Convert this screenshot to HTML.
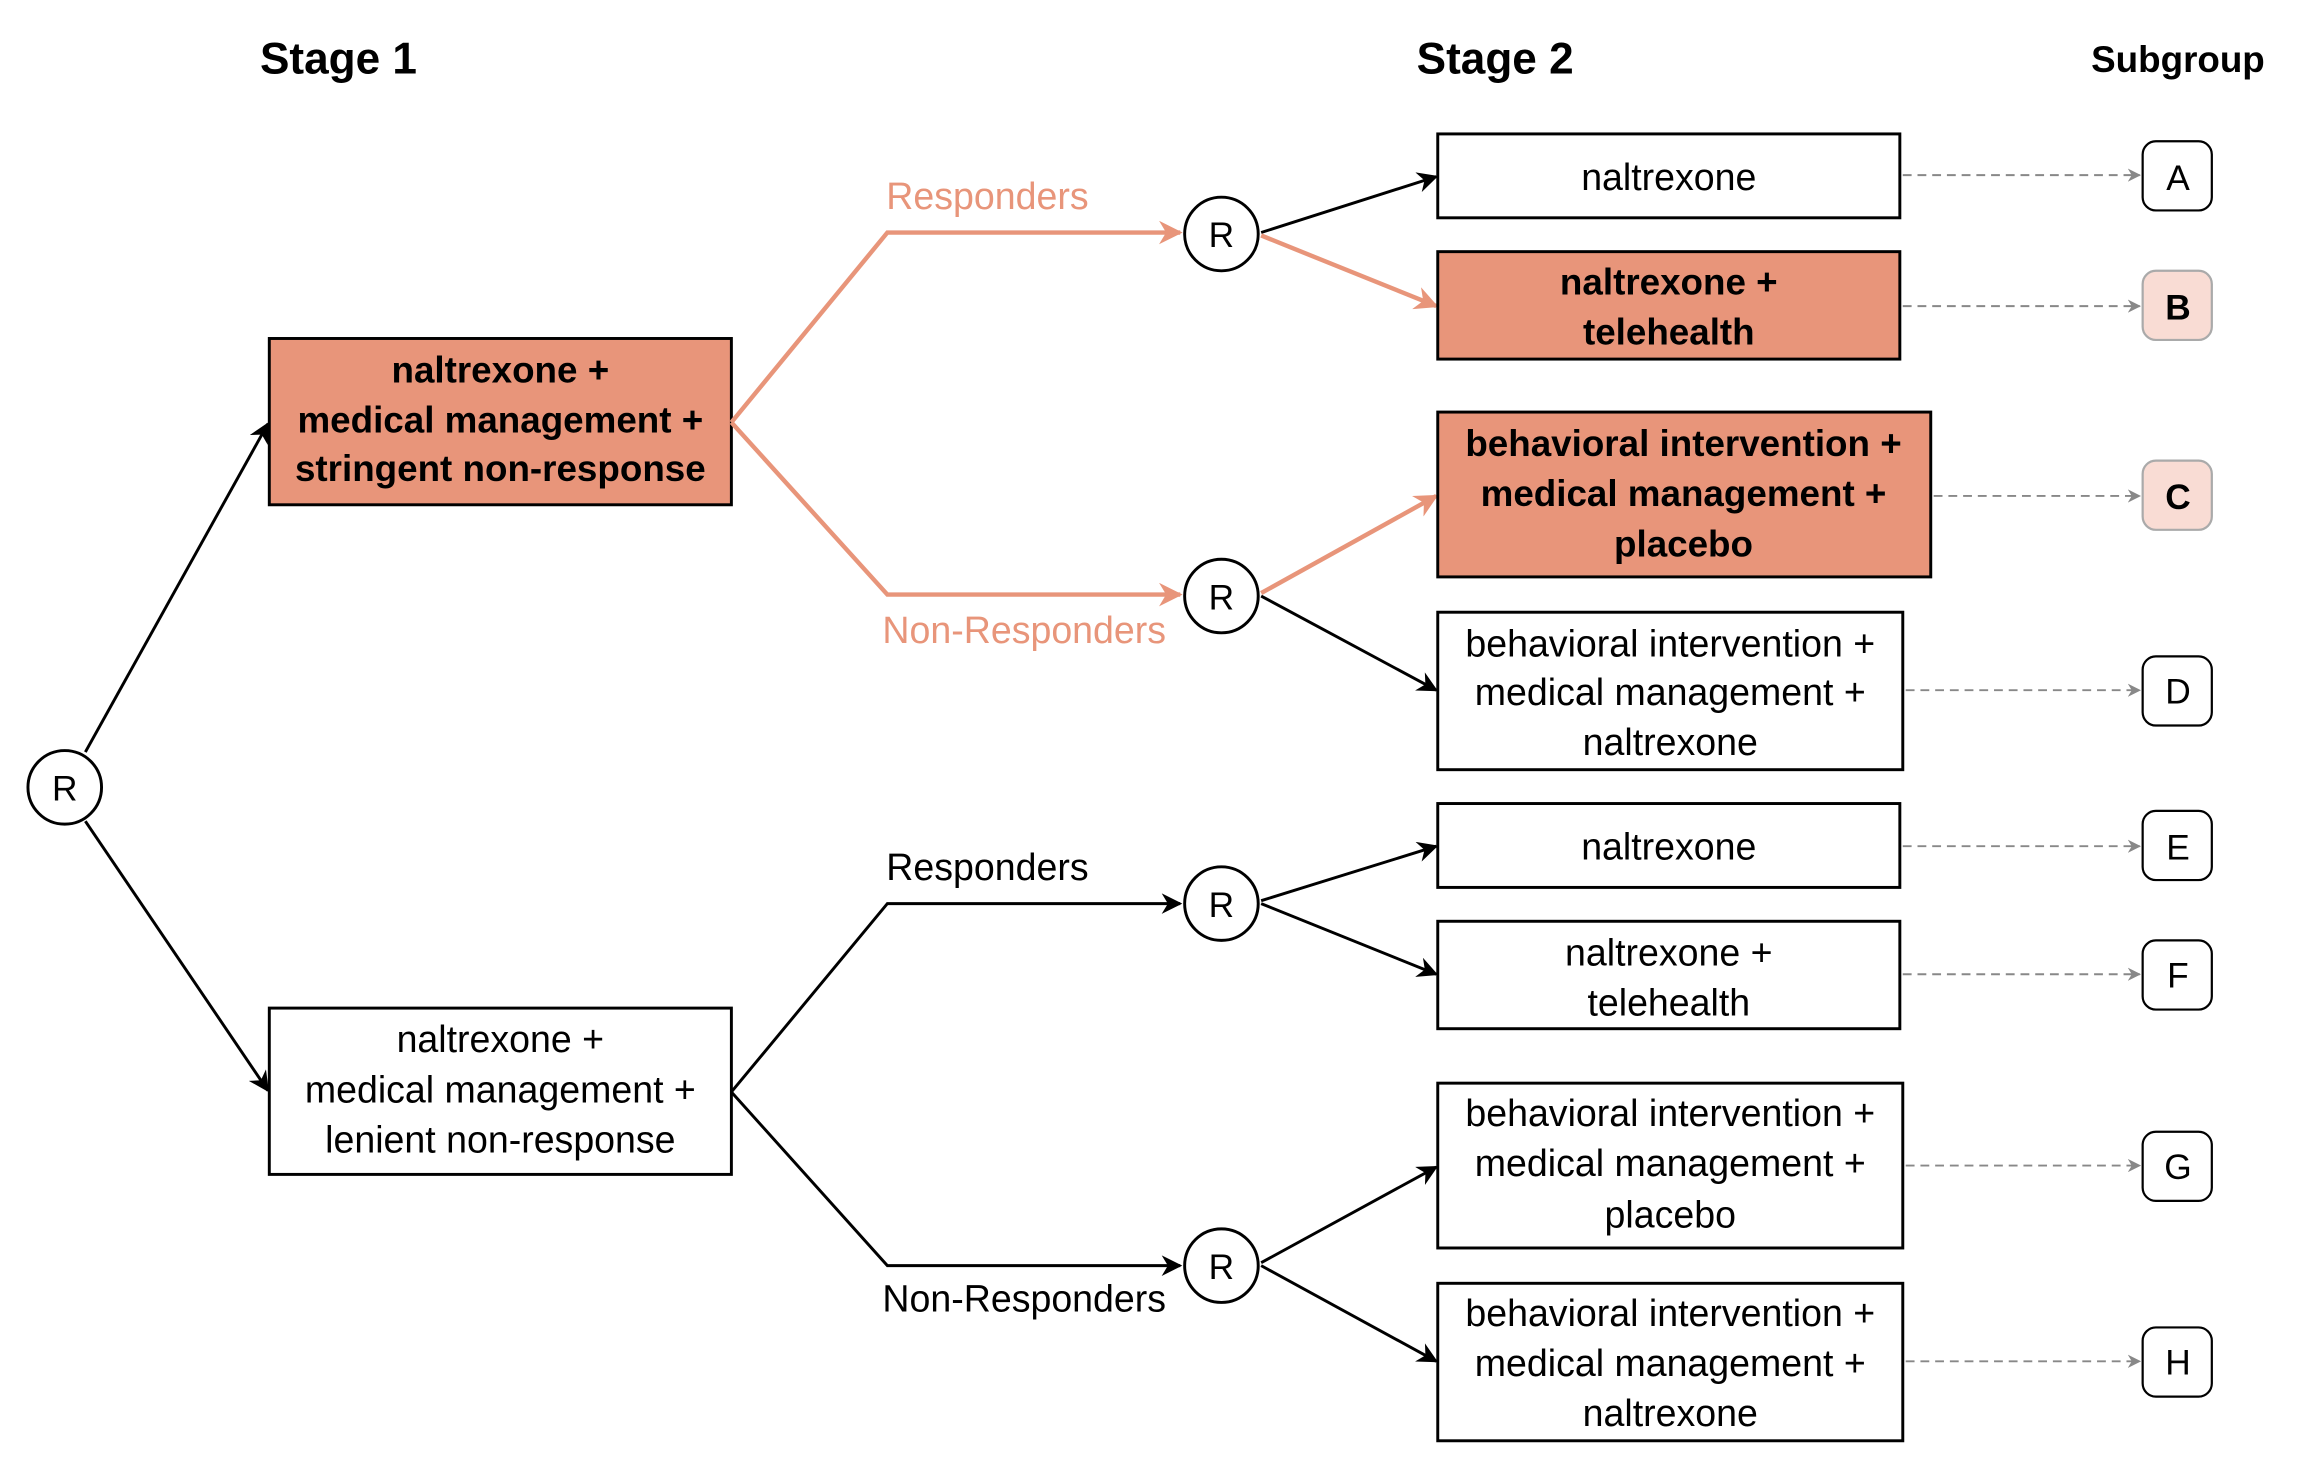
<!DOCTYPE html>
<html><head><meta charset="utf-8"><style>
html,body{margin:0;padding:0;background:#fff;}
svg{display:block;}
text{font-family:"Liberation Sans",sans-serif;}
</style></head><body>
<svg width="2306" height="1468" viewBox="0 0 1567 997.5" preserveAspectRatio="none" xmlns="http://www.w3.org/2000/svg">
<defs>
<marker id="ak" viewBox="0 0 10 10" refX="9" refY="5" markerWidth="14" markerHeight="14" markerUnits="userSpaceOnUse" orient="auto"><path d="M0,0 L10,5 L0,10 L3,5 z" fill="#000"/></marker>
<marker id="as" viewBox="0 0 10 10" refX="9" refY="5" markerWidth="16" markerHeight="16" markerUnits="userSpaceOnUse" orient="auto"><path d="M0,0 L10,5 L0,10 L3,5 z" fill="#e8957a"/></marker>
<marker id="ag" viewBox="0 0 10 10" refX="9" refY="5" markerWidth="9" markerHeight="9" markerUnits="userSpaceOnUse" orient="auto"><path d="M0,0 L10,5 L0,10 L3,5 z" fill="#888"/></marker>
</defs>

<g font-weight="bold" text-anchor="middle">
<text x="230" y="50" font-size="30">Stage 1</text>
<text x="1016" y="50" font-size="30">Stage 2</text>
<text x="1480" y="49" font-size="25">Subgroup</text>
</g>

<circle cx="44" cy="535" r="25" fill="#fff" stroke="#000" stroke-width="2"/>
<text x="44" y="544" font-size="24" text-anchor="middle">R</text>
<line x1="58" y1="511" x2="182" y2="288" stroke="#000" stroke-width="2" marker-end="url(#ak)"/>
<line x1="58" y1="558" x2="182" y2="741" stroke="#000" stroke-width="2" marker-end="url(#ak)"/>

<rect x="183" y="230" width="314" height="113" fill="#e8957a" stroke="#000" stroke-width="2"/>
<g font-size="25" font-weight="bold" text-anchor="middle">
<text x="340" y="260">naltrexone +</text>
<text x="340" y="294">medical management +</text>
<text x="340" y="327">stringent non-response</text>
</g>
<rect x="183" y="685" width="314" height="113" fill="#fff" stroke="#000" stroke-width="2"/>
<g font-size="25.5" text-anchor="middle">
<text x="340" y="715">naltrexone +</text>
<text x="340" y="749">medical management +</text>
<text x="340" y="783">lenient non-response</text>
</g>

<polyline points="497,287 603,158 802,158" fill="none" stroke="#e8957a" stroke-width="3" marker-end="url(#as)"/>
<polyline points="497,287 603,404 802,404" fill="none" stroke="#e8957a" stroke-width="3" marker-end="url(#as)"/>
<text x="671" y="142" font-size="25.5" fill="#e8957a" text-anchor="middle">Responders</text>
<text x="696" y="437" font-size="25.5" fill="#e8957a" text-anchor="middle">Non-Responders</text>
<polyline points="497,742 603,614 802,614" fill="none" stroke="#000" stroke-width="2" marker-end="url(#ak)"/>
<polyline points="497,742 603,860 802,860" fill="none" stroke="#000" stroke-width="2" marker-end="url(#ak)"/>
<text x="671" y="598" font-size="25.5" text-anchor="middle">Responders</text>
<text x="696" y="891" font-size="25.5" text-anchor="middle">Non-Responders</text>

<g fill="#fff" stroke="#000" stroke-width="2">
<circle cx="830" cy="159" r="25"/><circle cx="830" cy="405" r="25"/>
<circle cx="830" cy="614" r="25"/><circle cx="830" cy="860" r="25"/>
</g>
<g font-size="24" text-anchor="middle">
<text x="830" y="168">R</text><text x="830" y="414">R</text>
<text x="830" y="623">R</text><text x="830" y="869">R</text>
</g>

<line x1="857" y1="158" x2="976" y2="120" stroke="#000" stroke-width="2" marker-end="url(#ak)"/>
<line x1="857" y1="160" x2="976" y2="208" stroke="#e8957a" stroke-width="3" marker-end="url(#as)"/>
<line x1="857" y1="403" x2="976" y2="337" stroke="#e8957a" stroke-width="3" marker-end="url(#as)"/>
<line x1="857" y1="405" x2="976" y2="469" stroke="#000" stroke-width="2" marker-end="url(#ak)"/>
<line x1="857" y1="612" x2="976" y2="575" stroke="#000" stroke-width="2" marker-end="url(#ak)"/>
<line x1="857" y1="614" x2="976" y2="662" stroke="#000" stroke-width="2" marker-end="url(#ak)"/>
<line x1="857" y1="858" x2="976" y2="793" stroke="#000" stroke-width="2" marker-end="url(#ak)"/>
<line x1="857" y1="860" x2="976" y2="925" stroke="#000" stroke-width="2" marker-end="url(#ak)"/>

<g stroke="#000" stroke-width="2">
<rect x="977" y="91" width="314" height="57" fill="#fff"/>
<rect x="977" y="171" width="314" height="73" fill="#e8957a"/>
<rect x="977" y="280" width="335" height="112" fill="#e8957a"/>
<rect x="977" y="416" width="316" height="107" fill="#fff"/>
<rect x="977" y="546" width="314" height="57" fill="#fff"/>
<rect x="977" y="626" width="314" height="73" fill="#fff"/>
<rect x="977" y="736" width="316" height="112" fill="#fff"/>
<rect x="977" y="872" width="316" height="107" fill="#fff"/>
</g>
<g font-size="25.5" text-anchor="middle">
<text x="1134" y="129">naltrexone</text>
<g font-weight="bold" font-size="25">
<text x="1134" y="200">naltrexone +</text>
<text x="1134" y="234">telehealth</text>
<text x="1144" y="310">behavioral intervention +</text>
<text x="1144" y="344">medical management +</text>
<text x="1144" y="378">placebo</text>
</g>
<text x="1135" y="446">behavioral intervention +</text>
<text x="1135" y="479">medical management +</text>
<text x="1135" y="513">naltrexone</text>
<text x="1134" y="584">naltrexone</text>
<text x="1134" y="656">naltrexone +</text>
<text x="1134" y="690">telehealth</text>
<text x="1135" y="765">behavioral intervention +</text>
<text x="1135" y="799">medical management +</text>
<text x="1135" y="834">placebo</text>
<text x="1135" y="901">behavioral intervention +</text>
<text x="1135" y="935">medical management +</text>
<text x="1135" y="969">naltrexone</text>
</g>

<g stroke="#888" stroke-width="1.3" stroke-dasharray="6,4" fill="none">
<line x1="1293" y1="119" x2="1454" y2="119" marker-end="url(#ag)"/>
<line x1="1293" y1="208" x2="1454" y2="208" marker-end="url(#ag)"/>
<line x1="1314" y1="337" x2="1454" y2="337" marker-end="url(#ag)"/>
<line x1="1295" y1="469" x2="1454" y2="469" marker-end="url(#ag)"/>
<line x1="1293" y1="575" x2="1454" y2="575" marker-end="url(#ag)"/>
<line x1="1293" y1="662" x2="1454" y2="662" marker-end="url(#ag)"/>
<line x1="1295" y1="792" x2="1454" y2="792" marker-end="url(#ag)"/>
<line x1="1295" y1="925" x2="1454" y2="925" marker-end="url(#ag)"/>
</g>

<g stroke-width="1.5">
<rect x="1456" y="96" width="47" height="47" rx="9" fill="#fff" stroke="#000"/>
<rect x="1456" y="184" width="47" height="47" rx="9" fill="#f9dcd4" stroke="#aaa"/>
<rect x="1456" y="313" width="47" height="47" rx="9" fill="#f9dcd4" stroke="#aaa"/>
<rect x="1456" y="446" width="47" height="47" rx="9" fill="#fff" stroke="#000"/>
<rect x="1456" y="551" width="47" height="47" rx="9" fill="#fff" stroke="#000"/>
<rect x="1456" y="639" width="47" height="47" rx="9" fill="#fff" stroke="#000"/>
<rect x="1456" y="769" width="47" height="47" rx="9" fill="#fff" stroke="#000"/>
<rect x="1456" y="902" width="47" height="47" rx="9" fill="#fff" stroke="#000"/>
</g>
<g font-size="24" text-anchor="middle">
<text x="1480" y="129">A</text>
<text x="1480" y="217" font-weight="bold">B</text>
<text x="1480" y="346" font-weight="bold">C</text>
<text x="1480" y="478">D</text>
<text x="1480" y="584">E</text>
<text x="1480" y="671">F</text>
<text x="1480" y="801">G</text>
<text x="1480" y="934">H</text>
</g>
</svg>
</body></html>
